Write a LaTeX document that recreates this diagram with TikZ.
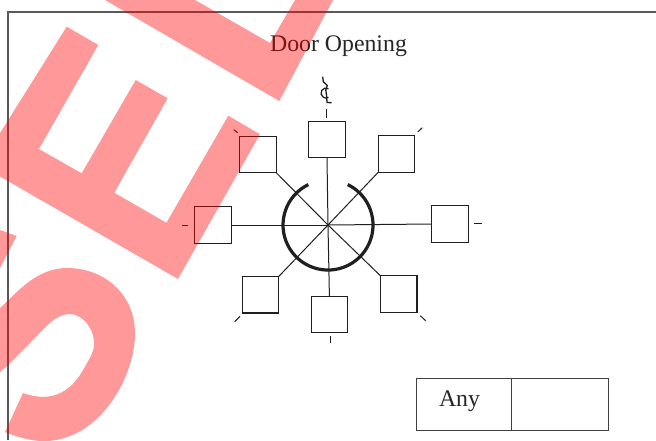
\documentclass[tikz,border=0pt]{standalone}
\usepackage{fontspec}
\setmainfont{Liberation Serif}
\tikzset{
  frameline/.style={draw=black!65,line width=1.05pt},
  doorbox/.style={draw=black!88,line width=1.1pt,minimum width=36.5pt,minimum height=36.5pt,inner sep=0pt,outer sep=0pt},
  spoke/.style={draw=black!88,line width=1pt},
  tick/.style={draw=black!88,line width=1pt},
  swing/.style={draw=black!88,line width=3.2pt},
  label/.style={font=\fontsize{23.8}{26}\selectfont,text=black!85,inner sep=0pt},
  cellbox/.style={draw=black!75,line width=0.95pt,minimum height=52pt,inner sep=0pt,outer sep=0pt},
  stamp/.style={fill=red,fill opacity=0.4,draw=none}
}
\begin{document}
\begin{tikzpicture}[x=1pt,y=-1pt]
\useasboundingbox (0,0) rectangle (656,440);
\clip (0,0) rectangle (656,440);
\fill[white] (0,0) rectangle (656,440);
% frame
\draw[frameline] (8,440) -- (8,12) -- (656,12);
% title
\node[label] (title) at (338.5,46.5) {Door Opening};
% centre
\coordinate (c) at (328,225);
% boxes
\node[doorbox] (bT) at (327,139.5) {};
\node[doorbox] (bTL) at (258,154.5) {};
\node[doorbox] (bTR) at (396.5,154) {};
\node[doorbox] (bL) at (212.8,225) {};
\node[doorbox] (bR) at (449.8,224) {};
\node[doorbox] (bBL) at (260.5,294.7) {};
\node[doorbox] (bB) at (329.4,314.4) {};
\node[doorbox] (bBR) at (398.7,294) {};
% spokes
\draw[spoke] (c) -- (bT.south);
\draw[spoke] (c) -- (bB.north);
\draw[spoke] (c) -- (bL.east);
\draw[spoke] (c) -- (bR.west);
\draw[spoke] (c) -- (bTL.south east);
\draw[spoke] (c) -- (bTR.south west);
\draw[spoke] (c) -- (bBL.north east);
\draw[spoke] (c) -- (bBR.north west);
\fill[black!88] (c) circle (1.4pt);
% swing arc
\draw[swing] (308.3,184.6) arc[start angle=116,end angle=424,radius=45pt];
% ticks
\coordinate (t1a) at (326.3,109.3); \coordinate (t1b) at (326.3,117.7);
\coordinate (t2a) at (233.7,129.7); \coordinate (t2b) at (237.7,132.7);
\coordinate (t3a) at (417.7,132); \coordinate (t3b) at (422.3,127.7);
\coordinate (t4a) at (182.3,225.3); \coordinate (t4b) at (188.3,225.3);
\coordinate (t5a) at (474,223.7); \coordinate (t5b) at (482.3,223.7);
\coordinate (t6a) at (234.7,321.7); \coordinate (t6b) at (240,316.3);
\coordinate (t7a) at (330,336); \coordinate (t7b) at (330,343.3);
\coordinate (t8a) at (420.3,315.7); \coordinate (t8b) at (425.7,320.7);
\draw[tick] (t1a) -- (t1b);
\draw[tick] (t2a) -- (t2b);
\draw[tick] (t3a) -- (t3b);
\draw[tick] (t4a) -- (t4b);
\draw[tick] (t5a) -- (t5b);
\draw[tick] (t6a) -- (t6b);
\draw[tick] (t7a) -- (t7b);
\draw[tick] (t8a) -- (t8b);
% centreline symbol
\draw[black!88,line width=1.3pt] (322.7,76.7) -- (323.3,81.7) -- (327.3,85.5) -- (325.8,90) -- (326.7,96.7) -- (327,102.5) -- (331.7,102.7);
\draw[black!88,line width=1.3pt] (328.5,88.7) arc[start angle=60,end angle=300,radius=5pt];
% table
\node[cellbox,minimum width=95pt,anchor=north west] (cellA) at (416,378) {};
\node[cellbox,minimum width=97pt,anchor=north west] (cellB) at (511,378) {};
\node[label] (any) at (459.5,401) {Any};
% watermark
\fill[stamp] (66.7,26.7) -- (98.3,45) -- (39,149) -- (81.7,173.3) -- (135.7,80) -- (167.7,98.3) -- (114.3,192.7) -- (166.4,222.8) -- (228.3,115.7) -- (260,134.3) -- (178,279) -- (-20,165) -- cycle;
\fill[stamp] (105,0) -- (279.3,101) -- (333,0) -- (295,0) -- (270,43) -- (195,0) -- cycle;
\fill[stamp] (0,230) -- (16.7,236) -- (0,268) -- cycle;
\fill[stamp] (0,308) .. controls (15,295) and (35,268) .. (67,268)
  .. controls (105,268) and (135,295) .. (135,333)
  .. controls (135,375) and (105,425) .. (67,437)
  .. controls (45,445) and (25,440) .. (5,432)
  -- (23,393)
  .. controls (40,399) and (65,402) .. (83,370)
  .. controls (90,358) and (95,350) .. (94,342)
  .. controls (93,325) and (80,314) .. (70,314)
  .. controls (55,314) and (45,328) .. (30,343)
  .. controls (20,353) and (10,364) .. (0,372) -- cycle;
\end{tikzpicture}
\end{document}
